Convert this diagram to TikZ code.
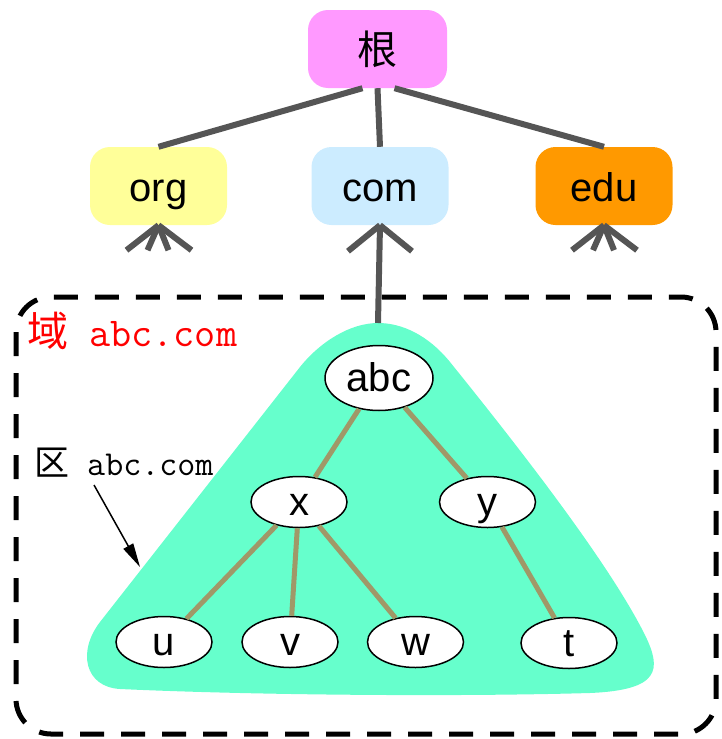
\documentclass[tikz,border=0pt]{standalone}
\usepackage{fontspec}
\setmainfont{Liberation Sans}
\newfontfamily\cjk{Noto Sans CJK SC}
\usetikzlibrary{arrows.meta,shapes.geometric}
\definecolor{rootpink}{HTML}{FF99FF}
\definecolor{orgyellow}{HTML}{FFFF99}
\definecolor{comblue}{HTML}{CCECFF}
\definecolor{eduorange}{HTML}{FF9900}
\definecolor{zonegreen}{HTML}{66FFCC}
\definecolor{linkgray}{HTML}{555555}
\definecolor{branchtan}{HTML}{A09868}

\begin{document}
\begin{tikzpicture}[x=1pt,y=-1pt,
  tld/.style={rounded corners=20pt,minimum width=137pt,minimum height=78pt,inner sep=0pt,
    text height=34pt,text depth=4pt,font=\fontsize{40}{44}\selectfont},
  host/.style={ellipse,draw=black,line width=1.5pt,fill=white,minimum width=96pt,minimum height=51pt,
    inner sep=0pt,text height=30pt,text depth=3pt,font=\fontsize{40}{44}\selectfont},
  link/.style={draw=linkgray,line width=6pt},
  branch/.style={draw=branchtan,line width=5pt},
  frame/.style={draw=black,line width=5pt,rounded corners=35pt,dash pattern=on 24pt off 17pt},
  pointer/.style={draw=black,line width=1.5pt,-{Triangle[length=24pt,width=11pt]}}]
\useasboundingbox (0,0) rectangle (721,739);

\fill[zonegreen] (378,323) .. controls (402,323) and (428,335) .. (450,362)
  .. controls (525,455) and (610,565) .. (645,635)
  .. controls (662,670) and (660,690) .. (590,693)
  .. controls (450,697) and (250,695) .. (120,689)
  .. controls (85,687) and (77,652) .. (100,622)
  -- (300,367)
  .. controls (320,342) and (350,323) .. (378,323) -- cycle;
\coordinate (apex) at (378,323);
\coordinate (zonetip) at (140,567);

\draw[frame] (16,297) rectangle (716,734);

\node[tld,fill=rootpink,minimum width=139pt] (root) at (377.5,49) {\cjk 根};
\node[tld,fill=orgyellow] (org) at (158.5,186) {org};
\node[tld,fill=comblue] (com) at (380,186) {com};
\node[tld,fill=eduorange] (edu) at (604,186) {edu};

\draw[link] ([xshift=-15pt]root.south) -- (org.north);
\draw[link] (root.south) -- (com.north);
\draw[link] ([xshift=17pt]root.south) -- (edu.north);
\foreach \dx in {-32,-11,10,33} {
  \draw[link] (org.south) -- ++(\dx,25);
  \draw[link] (edu.south) -- ++(\dx,25);
}
\draw[link] (com.south) -- ++(-32,26);
\draw[link] (com.south) -- ++(32,26);
\draw[link] (com.south) -- (apex);

\node[host,minimum width=108pt,minimum height=65pt] (abc) at (379,378) {abc};
\node[host] (x) at (299,502) {x};
\node[host] (y) at (487.5,502) {y};
\node[host] (u) at (164,642) {u};
\node[host] (v) at (290,642) {v};
\node[host] (w) at (415.5,642) {w};
\node[host] (t) at (569,643) {t};

\draw[branch] (abc) -- (x);
\draw[branch] (abc) -- (y);
\draw[branch] (x) -- (u);
\draw[branch] (x) -- (v);
\draw[branch] (x) -- (w);
\draw[branch] (y) -- (t);

\node[anchor=base west,inner sep=0pt,text=red,font=\fontsize{41}{44}\selectfont] (domainlabel) at (27,346)
  {{\cjk 域}\ttfamily\ abc.com};
\node[anchor=base west,inner sep=0pt,font=\fontsize{35}{40}\selectfont] (zonelabel) at (34,475)
  {{\cjk 区}\ttfamily\ abc.com};
\draw[pointer] ([shift={(60,10)}]zonelabel.base west) -- (zonetip);
\end{tikzpicture}
\end{document}
